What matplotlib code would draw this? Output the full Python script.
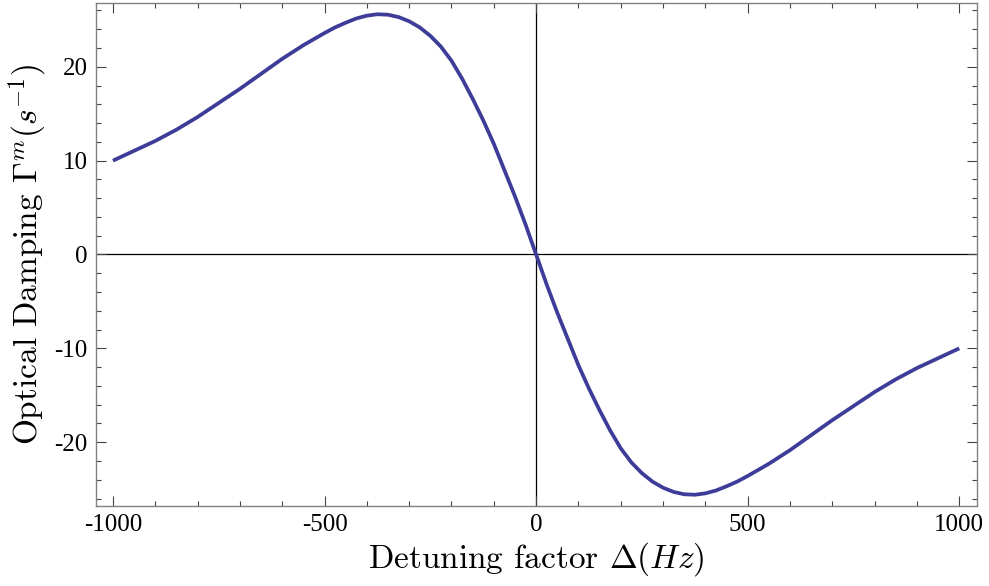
import numpy as np
import matplotlib
matplotlib.use('Agg')
import matplotlib.pyplot as plt
from matplotlib.ticker import MultipleLocator, FixedLocator

plt.rcParams['mathtext.fontset'] = 'cm'
plt.rcParams['axes.unicode_minus'] = False

# detuning (Hz) and optical damping (1/s)
detuning = [-1000, -950, -900, -850, -800, -750, -700, -650, -600, -550,
            -500, -475, -450, -425, -400, -375, -350, -325, -300, -275,
            -250, -225, -200, -175, -150, -125, -100, -75, -50, -25,
            0,
            25, 50, 75, 100, 125, 150, 175, 200, 225, 250,
            275, 300, 325, 350, 375, 400, 425, 450, 475, 500,
            550, 600, 650, 700, 750, 800, 850, 900, 950, 1000]
damping = [10.0, 11.05, 12.1, 13.3, 14.65, 16.15, 17.65, 19.25, 20.85, 22.3,
           23.6, 24.2, 24.7, 25.15, 25.45, 25.6, 25.55, 25.3, 24.85, 24.2,
           23.3, 22.15, 20.65, 18.75, 16.6, 14.3, 11.8, 9.0, 6.2, 3.2,
           0.0,
           -3.2, -6.2, -9.0, -11.8, -14.3, -16.6, -18.75, -20.65, -22.15, -23.3,
           -24.2, -24.85, -25.3, -25.55, -25.6, -25.45, -25.15, -24.7, -24.2, -23.6,
           -22.3, -20.85, -19.25, -17.65, -16.15, -14.65, -13.3, -12.1, -11.05, -10.0]

xticks = [-1000, -500, 0, 500, 1000]
xticklabels = ['-1000', '-500', '0', '500', '1000']
yticks = [-20, -10, 0, 10, 20]
yticklabels = ['-20', '-10', '0', '10', '20']

fig = plt.figure(figsize=(9.89, 5.86), dpi=100)
ax = fig.add_axes([0.0971, 0.1365, 0.8908, 0.8584])

# axes through the origin
ax.axhline(0, color='black', lw=0.9, zorder=1)
ax.axvline(0, color='black', lw=0.9, zorder=1)

ax.plot(detuning, damping, color='#3d3d99', lw=2.7, solid_capstyle='butt',
        solid_joinstyle='round', zorder=3)

ax.set_xlim(-1040, 1042)
ax.set_ylim(-26.8, 26.8)

ax.xaxis.set_major_locator(FixedLocator(xticks))
ax.set_xticklabels(xticklabels)
ax.yaxis.set_major_locator(FixedLocator(yticks))
ax.set_yticklabels(yticklabels)
ax.xaxis.set_minor_locator(MultipleLocator(100))
ax.yaxis.set_minor_locator(MultipleLocator(2))

ax.tick_params(which='both', direction='in', top=True, right=True,
               color='#444444', width=0.8)
ax.tick_params(which='major', length=7, labelsize=18, pad=6)
ax.tick_params(which='minor', length=3.5)
for lab in ax.get_xticklabels() + ax.get_yticklabels():
    lab.set_family('Liberation Serif')

for sp in ax.spines.values():
    sp.set_color('#808080')
    sp.set_linewidth(1.0)

ax.set_xlabel(r'Detuning factor $\Delta(Hz)$', fontsize=24, family='cmr10', labelpad=3)
ax.set_ylabel(r'Optical Damping $\Gamma^m(s^{-1})$', fontsize=24, family='cmr10', labelpad=4)

fig.savefig('out.png', dpi=100)
